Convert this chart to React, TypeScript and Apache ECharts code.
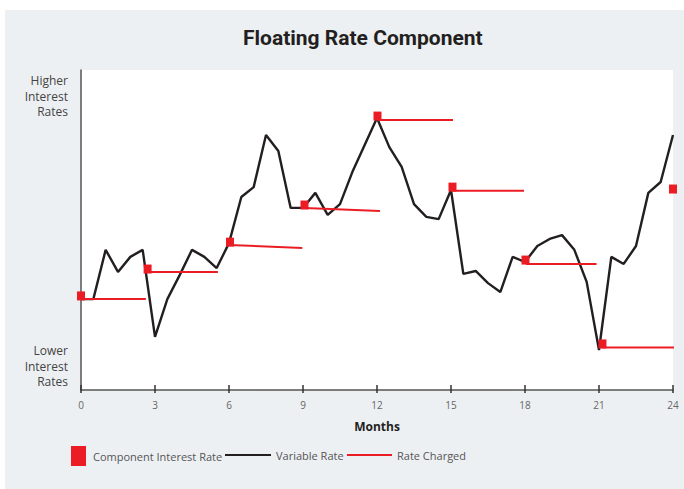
import React, { useEffect, useRef } from "react";
import * as echarts from "echarts";

const months = [
  0, 0.5, 1, 1.5, 2, 2.5, 3, 3.5, 4, 4.5, 5, 5.5, 6, 6.5, 7, 7.5, 8, 8.5, 9, 9.5, 10, 10.5,
  11, 11.5, 12, 12.5, 13, 13.5, 14, 14.5, 15, 15.5, 16, 16.5, 17, 17.5, 18, 18.5, 19, 19.5,
  20, 20.5, 21, 21.5, 22, 22.5, 23, 23.5, 24,
];
const variableRate = [
  28.4, 28.4, 43.8, 36.9, 41.6, 43.8, 16.6, 28.4, 35.9, 43.8, 41.6, 38.1, 45.9, 60.3, 63.4,
  79.7, 74.7, 56.9, 56.9, 61.6, 54.7, 58.1, 68.1, 76.6, 85.0, 75.9, 69.7, 58.1, 54.1, 53.4,
  62.5, 36.3, 37.2, 33.4, 30.6, 41.6, 40.0, 45.0, 47.2, 48.4, 43.8, 33.8, 12.5, 41.6, 39.4,
  45.0, 61.6, 65.0, 79.7,
];
const componentMonths = [0, 2.7, 6.04, 9.06, 12.02, 15.06, 18.02, 21.14, 24.0];
const componentRate = [29.4, 37.8, 46.2, 57.8, 85.6, 63.4, 40.6, 14.4, 62.8];

const chargedStart = [0, 2.7, 6.0, 9.08, 12.04, 15.08, 18.04, 21.1];
const chargedEnd = [2.63, 5.55, 8.97, 12.12, 15.08, 17.96, 20.9, 24.04];
const chargedStartRate = [28.4, 36.9, 45.3, 56.9, 84.4, 62.3, 39.4, 13.3];
const chargedEndRate = [28.4, 36.9, 44.4, 55.9, 84.4, 62.3, 39.4, 13.3];

const xTicks = { min: 0, max: 24, interval: 3 };
const yLabelsHigh = "Higher\nInterest\nRates";
const yLabelsLow = "Lower\nInterest\nRates";

const RED = "#ec1c24";
const BLACK = "#231f20";
const FONT = "'Open Sans', 'Noto Sans', sans-serif";

export default function App() {
  const ref = useRef<HTMLDivElement>(null);
  useEffect(() => {
    if (!ref.current) return;
    const chart = echarts.init(ref.current, undefined, { renderer: "svg" });
    const gridLeft = 81,
      gridRight = 11,
      gridTop = 70,
      gridBottom = 99;
    const chargedSeries = chargedStart.map((s, i) => ({
      name: "Rate Charged",
      type: "line",
      data: [
        [s, chargedStartRate[i]],
        [chargedEnd[i], chargedEndRate[i]],
      ],
      showSymbol: false,
      symbol: "none",
      clip: false,
      lineStyle: { color: RED, width: 2 },
      itemStyle: { color: RED },
      z: 3,
    }));
    chart.setOption({
      animation: false,
      backgroundColor: "#ffffff",
      textStyle: { fontFamily: FONT },
      title: {
        text: "Floating Rate Component",
        left: 243,
        top: 27,
        padding: 0,
        textStyle: { fontFamily: "Roboto, sans-serif", fontWeight: "bold", fontSize: 21, color: "#231f20" },
      },
      graphic: [
        { type: "rect", z: -20, shape: { x: 5, y: 10, width: 679, height: 479 }, style: { fill: "#edf0f3" }, silent: true },
        { type: "rect", z: -19, shape: { x: gridLeft, y: gridTop, width: 684 - gridLeft - gridRight, height: 489 - gridTop - gridBottom }, style: { fill: "#ffffff" }, silent: true },
        { type: "text", x: 68, y: 73, style: { text: yLabelsHigh, align: "right", verticalAlign: "top", fontSize: 12, lineHeight: 15.5, fill: "#444", fontFamily: FONT } },
        { type: "text", x: 68, y: 343, style: { text: yLabelsLow, align: "right", verticalAlign: "top", fontSize: 12, lineHeight: 15.5, fill: "#444", fontFamily: FONT } },
      ],
      legend: [
        {
          data: [{ name: "Component Interest Rate", icon: "rect", itemStyle: { opacity: 1 } }],
          left: 71,
          top: 446,
          padding: 0,
          itemWidth: 15,
          itemHeight: 20,
          textStyle: { color: "#555", fontSize: 11, fontFamily: FONT, padding: [0, 0, 0, 2] },
          selectedMode: false,
        },
        {
          data: [{ name: "Variable Rate", icon: "rect" }],
          left: 225,
          top: 448,
          padding: 0,
          itemWidth: 46,
          itemHeight: 2.2,
          textStyle: { color: "#555", fontSize: 11, fontFamily: FONT, lineHeight: 14 },
          selectedMode: false,
        },
        {
          data: [{ name: "Rate Charged", icon: "rect" }],
          left: 347,
          top: 448,
          padding: 0,
          itemWidth: 45,
          itemHeight: 2,
          textStyle: { color: "#555", fontSize: 11, fontFamily: FONT, lineHeight: 14 },
          selectedMode: false,
        },
      ],
      grid: { left: gridLeft, right: gridRight, top: gridTop, bottom: gridBottom, containLabel: false },
      xAxis: [
        {
          type: "value",
          min: xTicks.min,
          max: xTicks.max,
          interval: xTicks.interval,
          name: "Months",
          nameLocation: "middle",
          nameGap: 30,
          nameTextStyle: { fontWeight: "bold", fontSize: 12, color: "#231f20", fontFamily: FONT },
          axisLine: { show: true, lineStyle: { color: "#555", width: 1.5 } },
          axisTick: { show: true, length: 3, lineStyle: { color: "#333", width: 1.5 } },
          axisLabel: { color: "#666", fontSize: 10, margin: 10, fontFamily: FONT },
          splitLine: { show: false },
        },
        {
          type: "value",
          min: xTicks.min,
          max: xTicks.max,
          interval: xTicks.interval,
          position: "bottom",
          axisLine: { show: false },
          axisTick: { show: true, inside: true, length: 5, lineStyle: { color: "#333", width: 1.5 } },
          axisLabel: { show: false },
          splitLine: { show: false },
        },
      ],
      yAxis: {
        type: "value",
        min: 0,
        max: 100,
        axisLine: { show: true, lineStyle: { color: "#555", width: 1.5 } },
        axisTick: { show: false },
        axisLabel: { show: false },
        splitLine: { show: false },
      },
      series: [
        {
          name: "Variable Rate",
          type: "line",
          data: months.map((m, i) => [m, variableRate[i]]),
          showSymbol: false,
          symbol: "none",
          clip: false,
          lineStyle: { color: BLACK, width: 2.4 },
          itemStyle: { color: BLACK },
          z: 2,
        },
        ...chargedSeries,
        {
          name: "Component Interest Rate",
          type: "scatter",
          data: componentMonths.map((m, i) => [m, componentRate[i]]),
          symbol: "rect",
          symbolSize: [8, 9],
          clip: false,
          itemStyle: { color: RED, opacity: 1 },
          z: 4,
        },
      ],
    });
    return () => chart.dispose();
  }, []);
  return (
    <div
      ref={ref}
      style={{ position: "absolute", left: 0, top: 0, width: 684, height: 489 }}
    />
  );
}
